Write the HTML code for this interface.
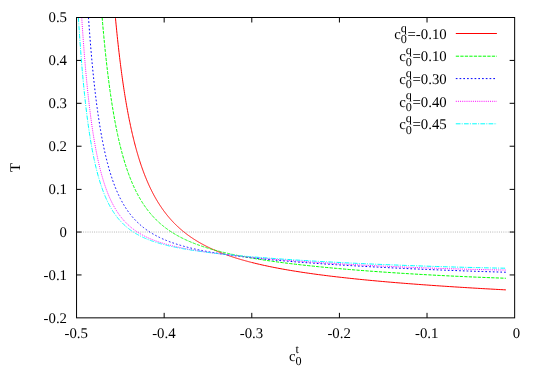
<!DOCTYPE html>
<html><head><meta charset="utf-8"><title>plot</title>
<style>
html,body{margin:0;padding:0;background:#fff;}
svg{display:block;will-change:transform;}
text{font-family:"Liberation Serif",serif;font-size:14.8px;fill:#000;text-rendering:geometricPrecision;}
.s{font-size:12.2px;}
</style></head><body>
<svg width="540" height="378" viewBox="0 0 540 378">
<rect width="540" height="378" fill="#fff"/>
<line x1="76.55" y1="232.04" x2="514.65" y2="232.04" stroke="#b0b0b0" stroke-width="1" stroke-dasharray="0.9,1.3"/>
<g stroke="#000" stroke-width="1">
<line x1="164.17" y1="317.85" x2="164.17" y2="312.85"/>
<line x1="164.17" y1="17.5" x2="164.17" y2="22.5"/>
<line x1="251.79" y1="317.85" x2="251.79" y2="312.85"/>
<line x1="251.79" y1="17.5" x2="251.79" y2="22.5"/>
<line x1="339.41" y1="317.85" x2="339.41" y2="312.85"/>
<line x1="339.41" y1="17.5" x2="339.41" y2="22.5"/>
<line x1="427.03" y1="317.85" x2="427.03" y2="312.85"/>
<line x1="427.03" y1="17.5" x2="427.03" y2="22.5"/>
<line x1="76.55" y1="60.41" x2="81.55" y2="60.41"/>
<line x1="514.65" y1="60.41" x2="509.65" y2="60.41"/>
<line x1="76.55" y1="103.31" x2="81.55" y2="103.31"/>
<line x1="514.65" y1="103.31" x2="509.65" y2="103.31"/>
<line x1="76.55" y1="146.22" x2="81.55" y2="146.22"/>
<line x1="514.65" y1="146.22" x2="509.65" y2="146.22"/>
<line x1="76.55" y1="189.38" x2="81.55" y2="189.38"/>
<line x1="514.65" y1="189.38" x2="509.65" y2="189.38"/>
<line x1="76.55" y1="232.04" x2="81.55" y2="232.04"/>
<line x1="514.65" y1="232.04" x2="509.65" y2="232.04"/>
<line x1="76.55" y1="274.94" x2="81.55" y2="274.94"/>
<line x1="514.65" y1="274.94" x2="509.65" y2="274.94"/>
</g>
<path d="M115.41,17.50 L115.53,18.73 L115.82,21.84 L116.11,24.89 L116.41,27.88 L116.70,30.82 L116.99,33.70 L117.28,36.53 L117.57,39.32 L117.87,42.05 L118.16,44.73 L118.45,47.36 L118.74,49.95 L119.04,52.49 L119.33,54.99 L119.62,57.45 L119.91,59.87 L120.21,62.24 L120.50,64.57 L120.79,66.87 L121.08,69.12 L121.38,71.34 L121.67,73.52 L121.96,75.67 L122.25,77.78 L122.55,79.86 L122.84,81.90 L123.13,83.91 L123.42,85.89 L123.72,87.84 L124.01,89.76 L124.30,91.64 L124.59,93.50 L124.88,95.33 L125.18,97.13 L125.47,98.91 L125.76,100.65 L126.05,102.37 L126.35,104.07 L126.64,105.74 L126.93,107.38 L127.22,109.00 L127.52,110.60 L127.81,112.17 L128.10,113.72 L128.39,115.25 L128.69,116.76 L128.98,118.24 L129.27,119.71 L129.56,121.15 L129.86,122.57 L130.15,123.97 L130.44,125.36 L130.73,126.72 L131.03,128.07 L131.32,129.39 L131.61,130.70 L131.90,131.99 L132.20,133.27 L132.49,134.52 L132.78,135.76 L133.07,136.98 L133.36,138.19 L133.66,139.38 L133.95,140.56 L134.24,141.72 L134.53,142.86 L134.83,143.99 L135.12,145.11 L135.41,146.21 L135.70,147.30 L136.00,148.37 L136.29,149.43 L136.58,150.48 L136.87,151.52 L137.17,152.54 L137.46,153.55 L137.75,154.54 L138.04,155.53 L138.34,156.50 L138.63,157.46 L138.92,158.41 L139.21,159.35 L139.51,160.27 L139.80,161.19 L140.09,162.09 L140.38,162.98 L140.67,163.87 L140.97,164.74 L141.26,165.60 L141.55,166.46 L141.84,167.30 L142.14,168.13 L142.43,168.96 L142.72,169.77 L143.01,170.58 L143.31,171.37 L143.60,172.16 L143.89,172.94 L144.18,173.71 L144.48,174.47 L144.77,175.22 L145.06,175.97 L145.35,176.70 L145.65,177.43 L145.94,178.15 L146.23,178.86 L146.52,179.57 L146.82,180.27 L147.11,180.96 L147.40,181.64 L147.69,182.31 L147.99,182.98 L148.28,183.64 L148.57,184.30 L148.86,184.95 L149.15,185.59 L149.45,186.22 L149.74,186.85 L150.03,187.47 L150.32,188.09 L150.62,188.69 L150.91,189.30 L151.20,189.89 L151.49,190.48 L151.79,191.07 L152.08,191.65 L152.37,192.22 L152.66,192.79 L152.96,193.35 L153.25,193.91 L153.54,194.46 L153.83,195.00 L154.13,195.54 L154.42,196.08 L154.71,196.61 L155.00,197.13 L155.30,197.65 L155.59,198.17 L155.88,198.68 L156.17,199.18 L156.46,199.69 L156.76,200.18 L157.05,200.67 L157.34,201.16 L157.63,201.64 L157.93,202.12 L158.22,202.59 L158.51,203.06 L158.80,203.53 L159.10,203.99 L159.39,204.44 L159.68,204.90 L159.97,205.34 L160.27,205.79 L160.56,206.23 L160.85,206.67 L161.14,207.10 L161.44,207.53 L161.73,207.95 L162.02,208.37 L162.31,208.79 L162.61,209.21 L162.90,209.62 L163.19,210.02 L163.48,210.43 L163.78,210.83 L164.07,211.22 L164.36,211.62 L164.65,212.01 L164.94,212.39 L165.24,212.78 L165.53,213.16 L165.82,213.53 L166.11,213.91 L166.41,214.28 L166.70,214.65 L166.99,215.01 L167.28,215.37 L167.58,215.73 L167.87,216.09 L168.16,216.44 L168.45,216.79 L168.75,217.14 L169.04,217.48 L169.33,217.82 L169.62,218.16 L169.92,218.50 L170.21,218.83 L170.50,219.16 L170.79,219.49 L171.09,219.82 L171.38,220.14 L171.67,220.46 L171.96,220.78 L172.26,221.09 L172.55,221.41 L172.84,221.72 L173.13,222.03 L173.42,222.33 L173.72,222.64 L174.01,222.94 L174.30,223.24 L174.59,223.53 L174.89,223.83 L175.18,224.12 L175.47,224.41 L175.76,224.70 L176.06,224.99 L176.35,225.27 L176.64,225.55 L176.93,225.83 L177.23,226.11 L177.52,226.39 L177.81,226.66 L178.10,226.93 L178.40,227.20 L178.69,227.47 L178.98,227.74 L179.27,228.00 L179.57,228.26 L179.86,228.52 L180.15,228.78 L180.44,229.04 L180.73,229.29 L181.03,229.55 L181.32,229.80 L181.61,230.05 L181.90,230.29 L182.20,230.54 L182.49,230.78 L182.78,231.03 L183.07,231.27 L183.37,231.51 L183.66,231.75 L183.95,231.98 L184.24,232.22 L184.54,232.45 L184.83,232.68 L185.12,232.91 L185.41,233.14 L185.71,233.37 L186.00,233.59 L186.29,233.81 L186.58,234.04 L186.88,234.26 L187.17,234.48 L187.46,234.69 L187.75,234.91 L188.05,235.13 L188.34,235.34 L188.63,235.55 L188.92,235.76 L189.21,235.97 L189.51,236.18 L189.80,236.39 L190.09,236.59 L190.38,236.80 L190.68,237.00 L190.97,237.20 L191.26,237.40 L191.55,237.60 L191.85,237.80 L192.14,238.00 L192.43,238.19 L192.72,238.39 L193.02,238.58 L193.31,238.77 L193.60,238.96 L193.89,239.15 L194.19,239.34 L194.48,239.53 L194.77,239.71 L195.06,239.90 L195.36,240.08 L195.65,240.27 L195.94,240.45 L196.23,240.63 L196.52,240.81 L196.82,240.99 L197.11,241.16 L197.40,241.34 L197.69,241.51 L197.99,241.69 L198.28,241.86 L198.57,242.03 L198.86,242.21 L199.16,242.38 L199.45,242.54 L199.74,242.71 L200.03,242.88 L200.33,243.05 L200.62,243.21 L200.91,243.38 L201.20,243.54 L201.50,243.70 L201.79,243.86 L202.08,244.02 L202.37,244.18 L202.67,244.34 L202.96,244.50 L203.25,244.66 L203.54,244.81 L203.84,244.97 L204.13,245.12 L204.42,245.28 L204.71,245.43 L205.00,245.58 L205.30,245.73 L205.59,245.88 L205.88,246.03 L206.17,246.18 L206.47,246.33 L206.76,246.48 L207.05,246.62 L207.34,246.77 L207.64,246.91 L207.93,247.06 L208.22,247.20 L208.51,247.34 L208.81,247.49 L209.10,247.63 L209.39,247.77 L209.68,247.91 L209.98,248.04 L210.27,248.18 L210.56,248.32 L210.85,248.46 L211.15,248.59 L211.44,248.73 L211.73,248.86 L212.02,249.00 L212.31,249.13 L212.61,249.26 L212.90,249.39 L213.19,249.52 L213.48,249.65 L213.78,249.78 L214.07,249.91 L214.36,250.04 L214.65,250.17 L214.95,250.30 L215.24,250.42 L215.53,250.55 L215.82,250.67 L216.12,250.80 L216.41,250.92 L216.70,251.05 L216.99,251.17 L217.29,251.29 L217.58,251.41 L217.87,251.53 L218.16,251.65 L218.46,251.77 L218.75,251.89 L219.04,252.01 L219.33,252.13 L219.63,252.25 L219.92,252.36 L220.21,252.48 L220.50,252.60 L220.79,252.71 L221.09,252.83 L221.38,252.94 L221.67,253.05 L221.96,253.17 L222.26,253.28 L222.55,253.39 L222.84,253.50 L223.13,253.62 L223.43,253.73 L223.72,253.84 L224.01,253.95 L224.30,254.05 L224.60,254.16 L224.89,254.27 L225.18,254.38 L225.47,254.49 L225.77,254.59 L226.06,254.70 L226.35,254.80 L226.64,254.91 L226.94,255.01 L227.23,255.12 L227.52,255.22 L227.81,255.32 L228.10,255.43 L228.40,255.53 L228.69,255.63 L228.98,255.73 L229.27,255.83 L229.57,255.93 L229.86,256.03 L230.15,256.13 L230.44,256.23 L230.74,256.33 L231.03,256.43 L231.32,256.53 L231.61,256.63 L231.91,256.72 L232.20,256.82 L232.49,256.92 L232.78,257.01 L233.08,257.11 L233.37,257.20 L233.66,257.30 L233.95,257.39 L234.25,257.49 L234.54,257.58 L234.83,257.67 L235.12,257.77 L235.42,257.86 L235.71,257.95 L236.00,258.04 L236.29,258.13 L236.58,258.22 L236.88,258.31 L237.17,258.40 L237.46,258.49 L237.75,258.58 L238.05,258.67 L238.34,258.76 L238.63,258.85 L238.92,258.94 L239.22,259.02 L239.51,259.11 L239.80,259.20 L240.09,259.28 L240.39,259.37 L240.68,259.46 L240.97,259.54 L241.26,259.63 L241.56,259.71 L241.85,259.80 L242.14,259.88 L242.43,259.96 L242.73,260.05 L243.02,260.13 L243.31,260.21 L243.60,260.29 L243.89,260.38 L244.19,260.46 L244.48,260.54 L244.77,260.62 L245.06,260.70 L245.36,260.78 L245.65,260.86 L245.94,260.94 L246.23,261.02 L246.53,261.10 L246.82,261.18 L247.11,261.26 L247.40,261.34 L247.70,261.42 L247.99,261.49 L248.28,261.57 L248.57,261.65 L248.87,261.73 L249.16,261.80 L249.45,261.88 L249.74,261.96 L250.04,262.03 L250.33,262.11 L250.62,262.18 L250.91,262.26 L251.21,262.33 L251.50,262.41 L251.79,262.48 L254.36,263.12 L256.92,263.74 L259.49,264.34 L262.06,264.93 L264.62,265.49 L267.19,266.04 L269.76,266.58 L272.32,267.10 L274.89,267.61 L277.46,268.10 L280.02,268.58 L282.59,269.05 L285.16,269.51 L287.72,269.96 L290.29,270.39 L292.86,270.82 L295.42,271.23 L297.99,271.64 L300.56,272.04 L303.12,272.43 L305.69,272.81 L308.26,273.18 L310.82,273.54 L313.39,273.90 L315.96,274.25 L318.52,274.60 L321.09,274.93 L323.66,275.26 L326.22,275.59 L328.79,275.91 L331.36,276.22 L333.92,276.52 L336.49,276.83 L339.06,277.12 L341.62,277.41 L344.19,277.70 L346.76,277.98 L349.32,278.26 L351.89,278.53 L354.46,278.80 L357.02,279.07 L359.59,279.33 L362.16,279.58 L364.72,279.84 L367.29,280.09 L369.86,280.33 L372.42,280.57 L374.99,280.81 L377.56,281.05 L380.12,281.28 L382.69,281.51 L385.26,281.73 L387.82,281.96 L390.39,282.18 L392.96,282.39 L395.52,282.61 L398.09,282.82 L400.66,283.03 L403.22,283.23 L405.79,283.44 L408.36,283.64 L410.92,283.84 L413.49,284.03 L416.06,284.23 L418.62,284.42 L421.19,284.61 L423.76,284.80 L426.32,284.98 L428.89,285.17 L431.46,285.35 L434.02,285.53 L436.59,285.71 L439.16,285.88 L441.72,286.06 L444.29,286.23 L446.86,286.40 L449.42,286.57 L451.99,286.73 L454.56,286.90 L457.12,287.06 L459.69,287.22 L462.26,287.38 L464.82,287.54 L467.39,287.70 L469.95,287.85 L472.52,288.01 L475.09,288.16 L477.65,288.31 L480.22,288.46 L482.79,288.61 L485.35,288.75 L487.92,288.90 L490.49,289.04 L493.05,289.18 L495.62,289.33 L498.19,289.47 L500.75,289.60 L503.32,289.74 L505.89,289.88" fill="none" stroke="#ff0000" stroke-width="1"/>
<path d="M102.14,17.50 L102.37,20.26 L102.66,23.66 L102.95,27.00 L103.25,30.27 L103.54,33.47 L103.83,36.61 L104.12,39.69 L104.42,42.71 L104.71,45.67 L105.00,48.57 L105.29,51.41 L105.59,54.20 L105.88,56.94 L106.17,59.63 L106.46,62.26 L106.76,64.85 L107.05,67.38 L107.34,69.87 L107.63,72.32 L107.93,74.72 L108.22,77.07 L108.51,79.39 L108.80,81.66 L109.09,83.89 L109.39,86.08 L109.68,88.23 L109.97,90.35 L110.26,92.42 L110.56,94.46 L110.85,96.47 L111.14,98.44 L111.43,100.38 L111.73,102.28 L112.02,104.15 L112.31,105.99 L112.60,107.80 L112.90,109.58 L113.19,111.33 L113.48,113.05 L113.77,114.74 L114.07,116.40 L114.36,118.04 L114.65,119.65 L114.94,121.24 L115.24,122.79 L115.53,124.33 L115.82,125.84 L116.11,127.32 L116.41,128.79 L116.70,130.23 L116.99,131.64 L117.28,133.04 L117.57,134.41 L117.87,135.76 L118.16,137.10 L118.45,138.41 L118.74,139.70 L119.04,140.97 L119.33,142.23 L119.62,143.46 L119.91,144.68 L120.21,145.88 L120.50,147.06 L120.79,148.22 L121.08,149.37 L121.38,150.50 L121.67,151.61 L121.96,152.71 L122.25,153.79 L122.55,154.86 L122.84,155.91 L123.13,156.94 L123.42,157.97 L123.72,158.97 L124.01,159.97 L124.30,160.95 L124.59,161.91 L124.88,162.87 L125.18,163.81 L125.47,164.73 L125.76,165.65 L126.05,166.55 L126.35,167.44 L126.64,168.32 L126.93,169.19 L127.22,170.04 L127.52,170.89 L127.81,171.72 L128.10,172.54 L128.39,173.36 L128.69,174.16 L128.98,174.95 L129.27,175.73 L129.56,176.50 L129.86,177.26 L130.15,178.01 L130.44,178.75 L130.73,179.48 L131.03,180.21 L131.32,180.92 L131.61,181.63 L131.90,182.32 L132.20,183.01 L132.49,183.69 L132.78,184.36 L133.07,185.03 L133.36,185.68 L133.66,186.33 L133.95,186.97 L134.24,187.60 L134.53,188.22 L134.83,188.84 L135.12,189.45 L135.41,190.05 L135.70,190.65 L136.00,191.24 L136.29,191.82 L136.58,192.39 L136.87,192.96 L137.17,193.52 L137.46,194.08 L137.75,194.63 L138.04,195.17 L138.34,195.71 L138.63,196.24 L138.92,196.76 L139.21,197.28 L139.51,197.80 L139.80,198.30 L140.09,198.80 L140.38,199.30 L140.67,199.79 L140.97,200.28 L141.26,200.76 L141.55,201.23 L141.84,201.70 L142.14,202.17 L142.43,202.63 L142.72,203.08 L143.01,203.53 L143.31,203.98 L143.60,204.42 L143.89,204.86 L144.18,205.29 L144.48,205.72 L144.77,206.14 L145.06,206.56 L145.35,206.97 L145.65,207.38 L145.94,207.79 L146.23,208.19 L146.52,208.59 L146.82,208.98 L147.11,209.37 L147.40,209.76 L147.69,210.14 L147.99,210.52 L148.28,210.89 L148.57,211.26 L148.86,211.63 L149.15,211.99 L149.45,212.35 L149.74,212.71 L150.03,213.06 L150.32,213.41 L150.62,213.76 L150.91,214.10 L151.20,214.44 L151.49,214.78 L151.79,215.11 L152.08,215.44 L152.37,215.77 L152.66,216.09 L152.96,216.41 L153.25,216.73 L153.54,217.05 L153.83,217.36 L154.13,217.67 L154.42,217.98 L154.71,218.28 L155.00,218.58 L155.30,218.88 L155.59,219.18 L155.88,219.47 L156.17,219.76 L156.46,220.05 L156.76,220.33 L157.05,220.62 L157.34,220.90 L157.63,221.17 L157.93,221.45 L158.22,221.72 L158.51,221.99 L158.80,222.26 L159.10,222.53 L159.39,222.79 L159.68,223.05 L159.97,223.31 L160.27,223.57 L160.56,223.82 L160.85,224.08 L161.14,224.33 L161.44,224.58 L161.73,224.82 L162.02,225.07 L162.31,225.31 L162.61,225.55 L162.90,225.79 L163.19,226.02 L163.48,226.26 L163.78,226.49 L164.07,226.72 L164.36,226.95 L164.65,227.18 L164.94,227.40 L165.24,227.63 L165.53,227.85 L165.82,228.07 L166.11,228.29 L166.41,228.50 L166.70,228.72 L166.99,228.93 L167.28,229.14 L167.58,229.35 L167.87,229.56 L168.16,229.77 L168.45,229.97 L168.75,230.18 L169.04,230.38 L169.33,230.58 L169.62,230.78 L169.92,230.97 L170.21,231.17 L170.50,231.36 L170.79,231.56 L171.09,231.75 L171.38,231.94 L171.67,232.13 L171.96,232.31 L172.26,232.50 L172.55,232.68 L172.84,232.87 L173.13,233.05 L173.42,233.23 L173.72,233.41 L174.01,233.59 L174.30,233.76 L174.59,233.94 L174.89,234.11 L175.18,234.29 L175.47,234.46 L175.76,234.63 L176.06,234.80 L176.35,234.97 L176.64,235.13 L176.93,235.30 L177.23,235.46 L177.52,235.63 L177.81,235.79 L178.10,235.95 L178.40,236.11 L178.69,236.27 L178.98,236.43 L179.27,236.59 L179.57,236.74 L179.86,236.90 L180.15,237.05 L180.44,237.20 L180.73,237.36 L181.03,237.51 L181.32,237.66 L181.61,237.81 L181.90,237.95 L182.20,238.10 L182.49,238.25 L182.78,238.39 L183.07,238.54 L183.37,238.68 L183.66,238.82 L183.95,238.96 L184.24,239.10 L184.54,239.24 L184.83,239.38 L185.12,239.52 L185.41,239.66 L185.71,239.79 L186.00,239.93 L186.29,240.06 L186.58,240.20 L186.88,240.33 L187.17,240.46 L187.46,240.59 L187.75,240.72 L188.05,240.85 L188.34,240.98 L188.63,241.11 L188.92,241.24 L189.21,241.36 L189.51,241.49 L189.80,241.61 L190.09,241.74 L190.38,241.86 L190.68,241.98 L190.97,242.10 L191.26,242.23 L191.55,242.35 L191.85,242.47 L192.14,242.59 L192.43,242.70 L192.72,242.82 L193.02,242.94 L193.31,243.06 L193.60,243.17 L193.89,243.29 L194.19,243.40 L194.48,243.51 L194.77,243.63 L195.06,243.74 L195.36,243.85 L195.65,243.96 L195.94,244.07 L196.23,244.18 L196.52,244.29 L196.82,244.40 L197.11,244.51 L197.40,244.62 L197.69,244.73 L197.99,244.83 L198.28,244.94 L198.57,245.04 L198.86,245.15 L199.16,245.25 L199.45,245.36 L199.74,245.46 L200.03,245.56 L200.33,245.66 L200.62,245.77 L200.91,245.87 L201.20,245.97 L201.50,246.07 L201.79,246.17 L202.08,246.27 L202.37,246.36 L202.67,246.46 L202.96,246.56 L203.25,246.66 L203.54,246.75 L203.84,246.85 L204.13,246.94 L204.42,247.04 L204.71,247.13 L205.00,247.23 L205.30,247.32 L205.59,247.41 L205.88,247.51 L206.17,247.60 L206.47,247.69 L206.76,247.78 L207.05,247.87 L207.34,247.96 L207.64,248.05 L207.93,248.14 L208.22,248.23 L208.51,248.32 L208.81,248.41 L209.10,248.50 L209.39,248.58 L209.68,248.67 L209.98,248.76 L210.27,248.84 L210.56,248.93 L210.85,249.01 L211.15,249.10 L211.44,249.18 L211.73,249.27 L212.02,249.35 L212.31,249.43 L212.61,249.52 L212.90,249.60 L213.19,249.68 L213.48,249.76 L213.78,249.84 L214.07,249.93 L214.36,250.01 L214.65,250.09 L214.95,250.17 L215.24,250.25 L215.53,250.33 L215.82,250.40 L216.12,250.48 L216.41,250.56 L216.70,250.64 L216.99,250.72 L217.29,250.79 L217.58,250.87 L217.87,250.95 L218.16,251.02 L218.46,251.10 L218.75,251.17 L219.04,251.25 L219.33,251.33 L219.63,251.40 L219.92,251.47 L220.21,251.55 L220.50,251.62 L220.79,251.69 L221.09,251.77 L221.38,251.84 L221.67,251.91 L221.96,251.98 L222.26,252.06 L222.55,252.13 L222.84,252.20 L223.13,252.27 L223.43,252.34 L223.72,252.41 L224.01,252.48 L224.30,252.55 L224.60,252.62 L224.89,252.69 L225.18,252.76 L225.47,252.83 L225.77,252.90 L226.06,252.96 L226.35,253.03 L226.64,253.10 L226.94,253.17 L227.23,253.23 L227.52,253.30 L227.81,253.37 L228.10,253.43 L228.40,253.50 L228.69,253.56 L228.98,253.63 L229.27,253.70 L229.57,253.76 L229.86,253.83 L230.15,253.89 L230.44,253.95 L230.74,254.02 L231.03,254.08 L231.32,254.15 L231.61,254.21 L231.91,254.27 L232.20,254.33 L232.49,254.40 L232.78,254.46 L233.08,254.52 L233.37,254.58 L233.66,254.64 L233.95,254.71 L234.25,254.77 L234.54,254.83 L234.83,254.89 L235.12,254.95 L235.42,255.01 L235.71,255.07 L236.00,255.13 L236.29,255.19 L236.58,255.25 L236.88,255.31 L237.17,255.37 L237.46,255.43 L237.75,255.48 L238.05,255.54 L238.34,255.60 L238.63,255.66 L238.92,255.72 L239.22,255.77 L239.51,255.83 L239.80,255.89 L240.09,255.95 L240.39,256.00 L240.68,256.06 L240.97,256.12 L241.26,256.17 L241.56,256.23 L241.85,256.28 L242.14,256.34 L242.43,256.40 L242.73,256.45 L243.02,256.51 L243.31,256.56 L243.60,256.62 L243.89,256.67 L244.19,256.72 L244.48,256.78 L244.77,256.83 L245.06,256.89 L245.36,256.94 L245.65,256.99 L245.94,257.05 L246.23,257.10 L246.53,257.15 L246.82,257.21 L247.11,257.26 L247.40,257.31 L247.70,257.36 L247.99,257.41 L248.28,257.47 L248.57,257.52 L248.87,257.57 L249.16,257.62 L249.45,257.67 L249.74,257.72 L250.04,257.78 L250.33,257.83 L250.62,257.88 L250.91,257.93 L251.21,257.98 L251.50,258.03 L251.79,258.08 L254.36,258.51 L256.92,258.93 L259.49,259.34 L262.06,259.74 L264.62,260.13 L267.19,260.52 L269.76,260.89 L272.32,261.25 L274.89,261.61 L277.46,261.96 L280.02,262.30 L282.59,262.63 L285.16,262.96 L287.72,263.28 L290.29,263.60 L292.86,263.90 L295.42,264.21 L297.99,264.50 L300.56,264.79 L303.12,265.08 L305.69,265.36 L308.26,265.64 L310.82,265.91 L313.39,266.18 L315.96,266.44 L318.52,266.70 L321.09,266.95 L323.66,267.20 L326.22,267.45 L328.79,267.69 L331.36,267.93 L333.92,268.16 L336.49,268.39 L339.06,268.62 L341.62,268.84 L344.19,269.06 L346.76,269.28 L349.32,269.50 L351.89,269.71 L354.46,269.92 L357.02,270.12 L359.59,270.32 L362.16,270.52 L364.72,270.72 L367.29,270.91 L369.86,271.11 L372.42,271.30 L374.99,271.48 L377.56,271.67 L380.12,271.85 L382.69,272.03 L385.26,272.20 L387.82,272.38 L390.39,272.55 L392.96,272.72 L395.52,272.89 L398.09,273.05 L400.66,273.21 L403.22,273.37 L405.79,273.53 L408.36,273.69 L410.92,273.84 L413.49,274.00 L416.06,274.15 L418.62,274.29 L421.19,274.44 L423.76,274.58 L426.32,274.73 L428.89,274.87 L431.46,275.01 L434.02,275.14 L436.59,275.28 L439.16,275.41 L441.72,275.54 L444.29,275.67 L446.86,275.80 L449.42,275.92 L451.99,276.05 L454.56,276.17 L457.12,276.29 L459.69,276.41 L462.26,276.52 L464.82,276.64 L467.39,276.75 L469.95,276.86 L472.52,276.97 L475.09,277.08 L477.65,277.19 L480.22,277.29 L482.79,277.40 L485.35,277.50 L487.92,277.60 L490.49,277.70 L493.05,277.79 L495.62,277.89 L498.19,277.98 L500.75,278.07 L503.32,278.16 L505.89,278.25" fill="none" stroke="#00ff00" stroke-width="1" stroke-dasharray="3.3,1.2"/>
<path d="M88.49,17.50 L88.63,19.54 L88.92,23.67 L89.21,27.70 L89.50,31.63 L89.80,35.47 L90.09,39.21 L90.38,42.87 L90.67,46.43 L90.97,49.92 L91.26,53.32 L91.55,56.65 L91.84,59.90 L92.14,63.07 L92.43,66.17 L92.72,69.20 L93.01,72.17 L93.30,75.06 L93.60,77.90 L93.89,80.67 L94.18,83.38 L94.47,86.03 L94.77,88.63 L95.06,91.16 L95.35,93.65 L95.64,96.08 L95.94,98.46 L96.23,100.79 L96.52,103.08 L96.81,105.31 L97.11,107.50 L97.40,109.64 L97.69,111.75 L97.98,113.80 L98.28,115.82 L98.57,117.80 L98.86,119.74 L99.15,121.64 L99.45,123.50 L99.74,125.33 L100.03,127.12 L100.32,128.88 L100.62,130.60 L100.91,132.29 L101.20,133.95 L101.49,135.57 L101.78,137.17 L102.08,138.74 L102.37,140.28 L102.66,141.78 L102.95,143.27 L103.25,144.72 L103.54,146.15 L103.83,147.55 L104.12,148.93 L104.42,150.28 L104.71,151.61 L105.00,152.92 L105.29,154.20 L105.59,155.46 L105.88,156.70 L106.17,157.92 L106.46,159.12 L106.76,160.29 L107.05,161.45 L107.34,162.59 L107.63,163.70 L107.93,164.80 L108.22,165.88 L108.51,166.95 L108.80,167.99 L109.09,169.02 L109.39,170.03 L109.68,171.03 L109.97,172.00 L110.26,172.97 L110.56,173.92 L110.85,174.85 L111.14,175.77 L111.43,176.67 L111.73,177.56 L112.02,178.44 L112.31,179.30 L112.60,180.15 L112.90,180.98 L113.19,181.81 L113.48,182.62 L113.77,183.41 L114.07,184.20 L114.36,184.97 L114.65,185.74 L114.94,186.49 L115.24,187.23 L115.53,187.96 L115.82,188.68 L116.11,189.39 L116.41,190.08 L116.70,190.77 L116.99,191.45 L117.28,192.12 L117.57,192.78 L117.87,193.43 L118.16,194.07 L118.45,194.70 L118.74,195.32 L119.04,195.93 L119.33,196.54 L119.62,197.14 L119.91,197.73 L120.21,198.31 L120.50,198.88 L120.79,199.45 L121.08,200.00 L121.38,200.55 L121.67,201.10 L121.96,201.63 L122.25,202.16 L122.55,202.68 L122.84,203.20 L123.13,203.70 L123.42,204.21 L123.72,204.70 L124.01,205.19 L124.30,205.67 L124.59,206.15 L124.88,206.62 L125.18,207.08 L125.47,207.54 L125.76,207.99 L126.05,208.44 L126.35,208.88 L126.64,209.31 L126.93,209.75 L127.22,210.17 L127.52,210.59 L127.81,211.00 L128.10,211.41 L128.39,211.82 L128.69,212.22 L128.98,212.61 L129.27,213.00 L129.56,213.39 L129.86,213.77 L130.15,214.15 L130.44,214.52 L130.73,214.89 L131.03,215.25 L131.32,215.61 L131.61,215.97 L131.90,216.32 L132.20,216.66 L132.49,217.01 L132.78,217.35 L133.07,217.68 L133.36,218.01 L133.66,218.34 L133.95,218.67 L134.24,218.99 L134.53,219.30 L134.83,219.62 L135.12,219.93 L135.41,220.24 L135.70,220.54 L136.00,220.84 L136.29,221.14 L136.58,221.43 L136.87,221.72 L137.17,222.01 L137.46,222.29 L137.75,222.57 L138.04,222.85 L138.34,223.13 L138.63,223.40 L138.92,223.67 L139.21,223.94 L139.51,224.20 L139.80,224.46 L140.09,224.72 L140.38,224.98 L140.67,225.23 L140.97,225.48 L141.26,225.73 L141.55,225.98 L141.84,226.22 L142.14,226.46 L142.43,226.70 L142.72,226.94 L143.01,227.17 L143.31,227.40 L143.60,227.63 L143.89,227.86 L144.18,228.09 L144.48,228.31 L144.77,228.53 L145.06,228.75 L145.35,228.96 L145.65,229.18 L145.94,229.39 L146.23,229.60 L146.52,229.81 L146.82,230.02 L147.11,230.22 L147.40,230.42 L147.69,230.62 L147.99,230.82 L148.28,231.02 L148.57,231.22 L148.86,231.41 L149.15,231.60 L149.45,231.79 L149.74,231.98 L150.03,232.17 L150.32,232.35 L150.62,232.53 L150.91,232.72 L151.20,232.90 L151.49,233.08 L151.79,233.25 L152.08,233.43 L152.37,233.60 L152.66,233.77 L152.96,233.94 L153.25,234.11 L153.54,234.28 L153.83,234.45 L154.13,234.61 L154.42,234.78 L154.71,234.94 L155.00,235.10 L155.30,235.26 L155.59,235.42 L155.88,235.58 L156.17,235.73 L156.46,235.89 L156.76,236.04 L157.05,236.19 L157.34,236.34 L157.63,236.49 L157.93,236.64 L158.22,236.79 L158.51,236.93 L158.80,237.08 L159.10,237.22 L159.39,237.36 L159.68,237.50 L159.97,237.64 L160.27,237.78 L160.56,237.92 L160.85,238.06 L161.14,238.19 L161.44,238.33 L161.73,238.46 L162.02,238.60 L162.31,238.73 L162.61,238.86 L162.90,238.99 L163.19,239.12 L163.48,239.24 L163.78,239.37 L164.07,239.50 L164.36,239.62 L164.65,239.75 L164.94,239.87 L165.24,239.99 L165.53,240.11 L165.82,240.23 L166.11,240.35 L166.41,240.47 L166.70,240.59 L166.99,240.71 L167.28,240.82 L167.58,240.94 L167.87,241.05 L168.16,241.17 L168.45,241.28 L168.75,241.39 L169.04,241.50 L169.33,241.61 L169.62,241.72 L169.92,241.83 L170.21,241.94 L170.50,242.05 L170.79,242.15 L171.09,242.26 L171.38,242.37 L171.67,242.47 L171.96,242.57 L172.26,242.68 L172.55,242.78 L172.84,242.88 L173.13,242.98 L173.42,243.08 L173.72,243.18 L174.01,243.28 L174.30,243.38 L174.59,243.48 L174.89,243.58 L175.18,243.67 L175.47,243.77 L175.76,243.86 L176.06,243.96 L176.35,244.05 L176.64,244.15 L176.93,244.24 L177.23,244.33 L177.52,244.42 L177.81,244.51 L178.10,244.60 L178.40,244.69 L178.69,244.78 L178.98,244.87 L179.27,244.96 L179.57,245.05 L179.86,245.14 L180.15,245.22 L180.44,245.31 L180.73,245.40 L181.03,245.48 L181.32,245.57 L181.61,245.65 L181.90,245.73 L182.20,245.82 L182.49,245.90 L182.78,245.98 L183.07,246.06 L183.37,246.15 L183.66,246.23 L183.95,246.31 L184.24,246.39 L184.54,246.47 L184.83,246.54 L185.12,246.62 L185.41,246.70 L185.71,246.78 L186.00,246.86 L186.29,246.93 L186.58,247.01 L186.88,247.09 L187.17,247.16 L187.46,247.24 L187.75,247.31 L188.05,247.38 L188.34,247.46 L188.63,247.53 L188.92,247.60 L189.21,247.68 L189.51,247.75 L189.80,247.82 L190.09,247.89 L190.38,247.96 L190.68,248.04 L190.97,248.11 L191.26,248.18 L191.55,248.24 L191.85,248.31 L192.14,248.38 L192.43,248.45 L192.72,248.52 L193.02,248.59 L193.31,248.66 L193.60,248.72 L193.89,248.79 L194.19,248.86 L194.48,248.92 L194.77,248.99 L195.06,249.05 L195.36,249.12 L195.65,249.18 L195.94,249.25 L196.23,249.31 L196.52,249.37 L196.82,249.44 L197.11,249.50 L197.40,249.56 L197.69,249.63 L197.99,249.69 L198.28,249.75 L198.57,249.81 L198.86,249.87 L199.16,249.94 L199.45,250.00 L199.74,250.06 L200.03,250.12 L200.33,250.18 L200.62,250.24 L200.91,250.30 L201.20,250.35 L201.50,250.41 L201.79,250.47 L202.08,250.53 L202.37,250.59 L202.67,250.65 L202.96,250.70 L203.25,250.76 L203.54,250.82 L203.84,250.87 L204.13,250.93 L204.42,250.99 L204.71,251.04 L205.00,251.10 L205.30,251.15 L205.59,251.21 L205.88,251.26 L206.17,251.32 L206.47,251.37 L206.76,251.43 L207.05,251.48 L207.34,251.54 L207.64,251.59 L207.93,251.64 L208.22,251.70 L208.51,251.75 L208.81,251.80 L209.10,251.85 L209.39,251.91 L209.68,251.96 L209.98,252.01 L210.27,252.06 L210.56,252.11 L210.85,252.16 L211.15,252.21 L211.44,252.26 L211.73,252.32 L212.02,252.37 L212.31,252.42 L212.61,252.47 L212.90,252.51 L213.19,252.56 L213.48,252.61 L213.78,252.66 L214.07,252.71 L214.36,252.76 L214.65,252.81 L214.95,252.86 L215.24,252.90 L215.53,252.95 L215.82,253.00 L216.12,253.05 L216.41,253.10 L216.70,253.14 L216.99,253.19 L217.29,253.24 L217.58,253.28 L217.87,253.33 L218.16,253.38 L218.46,253.42 L218.75,253.47 L219.04,253.51 L219.33,253.56 L219.63,253.60 L219.92,253.65 L220.21,253.69 L220.50,253.74 L220.79,253.78 L221.09,253.83 L221.38,253.87 L221.67,253.92 L221.96,253.96 L222.26,254.01 L222.55,254.05 L222.84,254.09 L223.13,254.14 L223.43,254.18 L223.72,254.22 L224.01,254.27 L224.30,254.31 L224.60,254.35 L224.89,254.39 L225.18,254.44 L225.47,254.48 L225.77,254.52 L226.06,254.56 L226.35,254.60 L226.64,254.65 L226.94,254.69 L227.23,254.73 L227.52,254.77 L227.81,254.81 L228.10,254.85 L228.40,254.89 L228.69,254.93 L228.98,254.97 L229.27,255.01 L229.57,255.05 L229.86,255.09 L230.15,255.13 L230.44,255.17 L230.74,255.21 L231.03,255.25 L231.32,255.29 L231.61,255.33 L231.91,255.37 L232.20,255.41 L232.49,255.45 L232.78,255.49 L233.08,255.53 L233.37,255.57 L233.66,255.60 L233.95,255.64 L234.25,255.68 L234.54,255.72 L234.83,255.76 L235.12,255.79 L235.42,255.83 L235.71,255.87 L236.00,255.91 L236.29,255.95 L236.58,255.98 L236.88,256.02 L237.17,256.06 L237.46,256.09 L237.75,256.13 L238.05,256.17 L238.34,256.20 L238.63,256.24 L238.92,256.28 L239.22,256.31 L239.51,256.35 L239.80,256.39 L240.09,256.42 L240.39,256.46 L240.68,256.49 L240.97,256.53 L241.26,256.56 L241.56,256.60 L241.85,256.63 L242.14,256.67 L242.43,256.70 L242.73,256.74 L243.02,256.77 L243.31,256.81 L243.60,256.84 L243.89,256.88 L244.19,256.91 L244.48,256.95 L244.77,256.98 L245.06,257.02 L245.36,257.05 L245.65,257.08 L245.94,257.12 L246.23,257.15 L246.53,257.19 L246.82,257.22 L247.11,257.25 L247.40,257.29 L247.70,257.32 L247.99,257.35 L248.28,257.39 L248.57,257.42 L248.87,257.45 L249.16,257.49 L249.45,257.52 L249.74,257.55 L250.04,257.58 L250.33,257.62 L250.62,257.65 L250.91,257.68 L251.21,257.71 L251.50,257.75 L251.79,257.78 L254.36,258.06 L256.92,258.33 L259.49,258.60 L262.06,258.86 L264.62,259.11 L267.19,259.36 L269.76,259.61 L272.32,259.85 L274.89,260.09 L277.46,260.32 L280.02,260.55 L282.59,260.77 L285.16,260.99 L287.72,261.21 L290.29,261.42 L292.86,261.63 L295.42,261.83 L297.99,262.04 L300.56,262.24 L303.12,262.43 L305.69,262.63 L308.26,262.82 L310.82,263.01 L313.39,263.19 L315.96,263.37 L318.52,263.55 L321.09,263.73 L323.66,263.91 L326.22,264.08 L328.79,264.25 L331.36,264.42 L333.92,264.59 L336.49,264.75 L339.06,264.91 L341.62,265.07 L344.19,265.23 L346.76,265.39 L349.32,265.54 L351.89,265.69 L354.46,265.84 L357.02,265.99 L359.59,266.14 L362.16,266.29 L364.72,266.43 L367.29,266.57 L369.86,266.71 L372.42,266.85 L374.99,266.99 L377.56,267.12 L380.12,267.26 L382.69,267.39 L385.26,267.52 L387.82,267.65 L390.39,267.78 L392.96,267.91 L395.52,268.03 L398.09,268.15 L400.66,268.28 L403.22,268.40 L405.79,268.52 L408.36,268.64 L410.92,268.75 L413.49,268.87 L416.06,268.98 L418.62,269.10 L421.19,269.21 L423.76,269.32 L426.32,269.43 L428.89,269.54 L431.46,269.64 L434.02,269.75 L436.59,269.85 L439.16,269.96 L441.72,270.06 L444.29,270.16 L446.86,270.26 L449.42,270.36 L451.99,270.45 L454.56,270.55 L457.12,270.64 L459.69,270.74 L462.26,270.83 L464.82,270.92 L467.39,271.01 L469.95,271.10 L472.52,271.19 L475.09,271.27 L477.65,271.36 L480.22,271.44 L482.79,271.53 L485.35,271.61 L487.92,271.69 L490.49,271.77 L493.05,271.85 L495.62,271.93 L498.19,272.01 L500.75,272.08 L503.32,272.16 L505.89,272.23" fill="none" stroke="#0000ff" stroke-width="1" stroke-dasharray="1.7,2.05"/>
<path d="M81.72,17.50 L81.90,20.26 L82.19,24.72 L82.49,29.07 L82.78,33.31 L83.07,37.45 L83.36,41.49 L83.66,45.42 L83.95,49.26 L84.24,53.01 L84.53,56.66 L84.83,60.23 L85.12,63.71 L85.41,67.11 L85.70,70.43 L85.99,73.67 L86.29,76.83 L86.58,79.93 L86.87,82.94 L87.16,85.89 L87.46,88.78 L87.75,91.59 L88.04,94.35 L88.33,97.04 L88.63,99.67 L88.92,102.24 L89.21,104.75 L89.50,107.21 L89.80,109.62 L90.09,111.97 L90.38,114.27 L90.67,116.52 L90.97,118.72 L91.26,120.88 L91.55,122.99 L91.84,125.05 L92.14,127.07 L92.43,129.05 L92.72,130.99 L93.01,132.88 L93.30,134.74 L93.60,136.56 L93.89,138.34 L94.18,140.09 L94.47,141.80 L94.77,143.48 L95.06,145.12 L95.35,146.73 L95.64,148.30 L95.94,149.85 L96.23,151.36 L96.52,152.85 L96.81,154.31 L97.11,155.73 L97.40,157.14 L97.69,158.51 L97.98,159.86 L98.28,161.18 L98.57,162.47 L98.86,163.75 L99.15,164.99 L99.45,166.22 L99.74,167.42 L100.03,168.60 L100.32,169.76 L100.62,170.89 L100.91,172.01 L101.20,173.11 L101.49,174.18 L101.78,175.24 L102.08,176.27 L102.37,177.29 L102.66,178.29 L102.95,179.27 L103.25,180.24 L103.54,181.19 L103.83,182.12 L104.12,183.04 L104.42,183.94 L104.71,184.82 L105.00,185.69 L105.29,186.54 L105.59,187.38 L105.88,188.21 L106.17,189.02 L106.46,189.82 L106.76,190.60 L107.05,191.37 L107.34,192.13 L107.63,192.88 L107.93,193.61 L108.22,194.33 L108.51,195.04 L108.80,195.74 L109.09,196.43 L109.39,197.10 L109.68,197.77 L109.97,198.42 L110.26,199.07 L110.56,199.70 L110.85,200.33 L111.14,200.94 L111.43,201.54 L111.73,202.14 L112.02,202.73 L112.31,203.30 L112.60,203.87 L112.90,204.43 L113.19,204.98 L113.48,205.52 L113.77,206.06 L114.07,206.59 L114.36,207.10 L114.65,207.62 L114.94,208.12 L115.24,208.61 L115.53,209.10 L115.82,209.58 L116.11,210.06 L116.41,210.53 L116.70,210.99 L116.99,211.44 L117.28,211.89 L117.57,212.33 L117.87,212.77 L118.16,213.20 L118.45,213.62 L118.74,214.04 L119.04,214.45 L119.33,214.85 L119.62,215.25 L119.91,215.65 L120.21,216.04 L120.50,216.42 L120.79,216.80 L121.08,217.17 L121.38,217.54 L121.67,217.90 L121.96,218.26 L122.25,218.61 L122.55,218.96 L122.84,219.31 L123.13,219.65 L123.42,219.98 L123.72,220.31 L124.01,220.64 L124.30,220.96 L124.59,221.28 L124.88,221.60 L125.18,221.91 L125.47,222.21 L125.76,222.52 L126.05,222.81 L126.35,223.11 L126.64,223.40 L126.93,223.69 L127.22,223.97 L127.52,224.25 L127.81,224.53 L128.10,224.80 L128.39,225.07 L128.69,225.34 L128.98,225.61 L129.27,225.87 L129.56,226.12 L129.86,226.38 L130.15,226.63 L130.44,226.88 L130.73,227.13 L131.03,227.37 L131.32,227.61 L131.61,227.85 L131.90,228.08 L132.20,228.31 L132.49,228.54 L132.78,228.77 L133.07,228.99 L133.36,229.21 L133.66,229.43 L133.95,229.65 L134.24,229.86 L134.53,230.07 L134.83,230.28 L135.12,230.49 L135.41,230.69 L135.70,230.90 L136.00,231.10 L136.29,231.30 L136.58,231.49 L136.87,231.69 L137.17,231.88 L137.46,232.07 L137.75,232.25 L138.04,232.44 L138.34,232.62 L138.63,232.81 L138.92,232.99 L139.21,233.16 L139.51,233.34 L139.80,233.52 L140.09,233.69 L140.38,233.86 L140.67,234.03 L140.97,234.20 L141.26,234.36 L141.55,234.53 L141.84,234.69 L142.14,234.85 L142.43,235.01 L142.72,235.17 L143.01,235.32 L143.31,235.48 L143.60,235.63 L143.89,235.78 L144.18,235.93 L144.48,236.08 L144.77,236.23 L145.06,236.38 L145.35,236.52 L145.65,236.66 L145.94,236.81 L146.23,236.95 L146.52,237.09 L146.82,237.22 L147.11,237.36 L147.40,237.50 L147.69,237.63 L147.99,237.76 L148.28,237.90 L148.57,238.03 L148.86,238.16 L149.15,238.29 L149.45,238.41 L149.74,238.54 L150.03,238.66 L150.32,238.79 L150.62,238.91 L150.91,239.03 L151.20,239.15 L151.49,239.27 L151.79,239.39 L152.08,239.51 L152.37,239.63 L152.66,239.74 L152.96,239.86 L153.25,239.97 L153.54,240.08 L153.83,240.20 L154.13,240.31 L154.42,240.42 L154.71,240.53 L155.00,240.64 L155.30,240.74 L155.59,240.85 L155.88,240.96 L156.17,241.06 L156.46,241.16 L156.76,241.27 L157.05,241.37 L157.34,241.47 L157.63,241.57 L157.93,241.67 L158.22,241.77 L158.51,241.87 L158.80,241.97 L159.10,242.07 L159.39,242.16 L159.68,242.26 L159.97,242.35 L160.27,242.45 L160.56,242.54 L160.85,242.63 L161.14,242.73 L161.44,242.82 L161.73,242.91 L162.02,243.00 L162.31,243.09 L162.61,243.18 L162.90,243.27 L163.19,243.35 L163.48,243.44 L163.78,243.53 L164.07,243.61 L164.36,243.70 L164.65,243.78 L164.94,243.87 L165.24,243.95 L165.53,244.03 L165.82,244.11 L166.11,244.20 L166.41,244.28 L166.70,244.36 L166.99,244.44 L167.28,244.52 L167.58,244.60 L167.87,244.68 L168.16,244.75 L168.45,244.83 L168.75,244.91 L169.04,244.98 L169.33,245.06 L169.62,245.14 L169.92,245.21 L170.21,245.29 L170.50,245.36 L170.79,245.43 L171.09,245.51 L171.38,245.58 L171.67,245.65 L171.96,245.72 L172.26,245.80 L172.55,245.87 L172.84,245.94 L173.13,246.01 L173.42,246.08 L173.72,246.15 L174.01,246.22 L174.30,246.28 L174.59,246.35 L174.89,246.42 L175.18,246.49 L175.47,246.55 L175.76,246.62 L176.06,246.69 L176.35,246.75 L176.64,246.82 L176.93,246.88 L177.23,246.95 L177.52,247.01 L177.81,247.08 L178.10,247.14 L178.40,247.20 L178.69,247.27 L178.98,247.33 L179.27,247.39 L179.57,247.45 L179.86,247.51 L180.15,247.57 L180.44,247.64 L180.73,247.70 L181.03,247.76 L181.32,247.82 L181.61,247.88 L181.90,247.94 L182.20,247.99 L182.49,248.05 L182.78,248.11 L183.07,248.17 L183.37,248.23 L183.66,248.28 L183.95,248.34 L184.24,248.40 L184.54,248.46 L184.83,248.51 L185.12,248.57 L185.41,248.62 L185.71,248.68 L186.00,248.73 L186.29,248.79 L186.58,248.84 L186.88,248.90 L187.17,248.95 L187.46,249.01 L187.75,249.06 L188.05,249.11 L188.34,249.17 L188.63,249.22 L188.92,249.27 L189.21,249.33 L189.51,249.38 L189.80,249.43 L190.09,249.48 L190.38,249.53 L190.68,249.58 L190.97,249.64 L191.26,249.69 L191.55,249.74 L191.85,249.79 L192.14,249.84 L192.43,249.89 L192.72,249.94 L193.02,249.99 L193.31,250.04 L193.60,250.09 L193.89,250.13 L194.19,250.18 L194.48,250.23 L194.77,250.28 L195.06,250.33 L195.36,250.38 L195.65,250.42 L195.94,250.47 L196.23,250.52 L196.52,250.57 L196.82,250.61 L197.11,250.66 L197.40,250.71 L197.69,250.75 L197.99,250.80 L198.28,250.84 L198.57,250.89 L198.86,250.94 L199.16,250.98 L199.45,251.03 L199.74,251.07 L200.03,251.12 L200.33,251.16 L200.62,251.21 L200.91,251.25 L201.20,251.29 L201.50,251.34 L201.79,251.38 L202.08,251.43 L202.37,251.47 L202.67,251.51 L202.96,251.56 L203.25,251.60 L203.54,251.64 L203.84,251.69 L204.13,251.73 L204.42,251.77 L204.71,251.81 L205.00,251.86 L205.30,251.90 L205.59,251.94 L205.88,251.98 L206.17,252.02 L206.47,252.06 L206.76,252.11 L207.05,252.15 L207.34,252.19 L207.64,252.23 L207.93,252.27 L208.22,252.31 L208.51,252.35 L208.81,252.39 L209.10,252.43 L209.39,252.47 L209.68,252.51 L209.98,252.55 L210.27,252.59 L210.56,252.63 L210.85,252.67 L211.15,252.71 L211.44,252.75 L211.73,252.79 L212.02,252.83 L212.31,252.86 L212.61,252.90 L212.90,252.94 L213.19,252.98 L213.48,253.02 L213.78,253.06 L214.07,253.09 L214.36,253.13 L214.65,253.17 L214.95,253.21 L215.24,253.25 L215.53,253.28 L215.82,253.32 L216.12,253.36 L216.41,253.39 L216.70,253.43 L216.99,253.47 L217.29,253.51 L217.58,253.54 L217.87,253.58 L218.16,253.61 L218.46,253.65 L218.75,253.69 L219.04,253.72 L219.33,253.76 L219.63,253.80 L219.92,253.83 L220.21,253.87 L220.50,253.90 L220.79,253.94 L221.09,253.97 L221.38,254.01 L221.67,254.04 L221.96,254.08 L222.26,254.11 L222.55,254.15 L222.84,254.18 L223.13,254.22 L223.43,254.25 L223.72,254.29 L224.01,254.32 L224.30,254.36 L224.60,254.39 L224.89,254.43 L225.18,254.46 L225.47,254.49 L225.77,254.53 L226.06,254.56 L226.35,254.60 L226.64,254.63 L226.94,254.66 L227.23,254.70 L227.52,254.73 L227.81,254.76 L228.10,254.80 L228.40,254.83 L228.69,254.86 L228.98,254.90 L229.27,254.93 L229.57,254.96 L229.86,254.99 L230.15,255.03 L230.44,255.06 L230.74,255.09 L231.03,255.12 L231.32,255.16 L231.61,255.19 L231.91,255.22 L232.20,255.25 L232.49,255.29 L232.78,255.32 L233.08,255.35 L233.37,255.38 L233.66,255.41 L233.95,255.44 L234.25,255.48 L234.54,255.51 L234.83,255.54 L235.12,255.57 L235.42,255.60 L235.71,255.63 L236.00,255.66 L236.29,255.69 L236.58,255.73 L236.88,255.76 L237.17,255.79 L237.46,255.82 L237.75,255.85 L238.05,255.88 L238.34,255.91 L238.63,255.94 L238.92,255.97 L239.22,256.00 L239.51,256.03 L239.80,256.06 L240.09,256.09 L240.39,256.12 L240.68,256.15 L240.97,256.18 L241.26,256.21 L241.56,256.24 L241.85,256.27 L242.14,256.30 L242.43,256.33 L242.73,256.36 L243.02,256.39 L243.31,256.42 L243.60,256.45 L243.89,256.48 L244.19,256.51 L244.48,256.54 L244.77,256.57 L245.06,256.60 L245.36,256.62 L245.65,256.65 L245.94,256.68 L246.23,256.71 L246.53,256.74 L246.82,256.77 L247.11,256.80 L247.40,256.83 L247.70,256.85 L247.99,256.88 L248.28,256.91 L248.57,256.94 L248.87,256.97 L249.16,257.00 L249.45,257.02 L249.74,257.05 L250.04,257.08 L250.33,257.11 L250.62,257.14 L250.91,257.16 L251.21,257.19 L251.50,257.22 L251.79,257.25 L254.36,257.49 L256.92,257.73 L259.49,257.96 L262.06,258.19 L264.62,258.42 L267.19,258.64 L269.76,258.86 L272.32,259.07 L274.89,259.29 L277.46,259.50 L280.02,259.70 L282.59,259.91 L285.16,260.11 L287.72,260.31 L290.29,260.51 L292.86,260.70 L295.42,260.89 L297.99,261.08 L300.56,261.26 L303.12,261.45 L305.69,261.63 L308.26,261.81 L310.82,261.98 L313.39,262.16 L315.96,262.33 L318.52,262.50 L321.09,262.67 L323.66,262.83 L326.22,263.00 L328.79,263.16 L331.36,263.32 L333.92,263.48 L336.49,263.63 L339.06,263.78 L341.62,263.94 L344.19,264.09 L346.76,264.23 L349.32,264.38 L351.89,264.52 L354.46,264.67 L357.02,264.81 L359.59,264.94 L362.16,265.08 L364.72,265.22 L367.29,265.35 L369.86,265.48 L372.42,265.61 L374.99,265.74 L377.56,265.86 L380.12,265.99 L382.69,266.11 L385.26,266.23 L387.82,266.35 L390.39,266.47 L392.96,266.59 L395.52,266.70 L398.09,266.81 L400.66,266.92 L403.22,267.03 L405.79,267.14 L408.36,267.24 L410.92,267.35 L413.49,267.45 L416.06,267.55 L418.62,267.65 L421.19,267.75 L423.76,267.84 L426.32,267.94 L428.89,268.03 L431.46,268.12 L434.02,268.21 L436.59,268.30 L439.16,268.39 L441.72,268.47 L444.29,268.55 L446.86,268.63 L449.42,268.71 L451.99,268.79 L454.56,268.87 L457.12,268.94 L459.69,269.02 L462.26,269.09 L464.82,269.16 L467.39,269.23 L469.95,269.29 L472.52,269.36 L475.09,269.42 L477.65,269.49 L480.22,269.55 L482.79,269.61 L485.35,269.66 L487.92,269.72 L490.49,269.77 L493.05,269.83 L495.62,269.88 L498.19,269.93 L500.75,269.97 L503.32,270.02 L505.89,270.07" fill="none" stroke="#ff00ff" stroke-width="1" stroke-dasharray="1,1.14"/>
<path d="M78.41,17.50 L78.68,21.94 L78.98,26.52 L79.27,30.98 L79.56,35.33 L79.85,39.56 L80.15,43.68 L80.44,47.69 L80.73,51.60 L81.02,55.41 L81.32,59.12 L81.61,62.74 L81.90,66.27 L82.19,69.71 L82.49,73.07 L82.78,76.34 L83.07,79.54 L83.36,82.65 L83.66,85.70 L83.95,88.66 L84.24,91.56 L84.53,94.39 L84.83,97.15 L85.12,99.85 L85.41,102.48 L85.70,105.06 L85.99,107.57 L86.29,110.03 L86.58,112.43 L86.87,114.77 L87.16,117.07 L87.46,119.31 L87.75,121.50 L88.04,123.64 L88.33,125.74 L88.63,127.79 L88.92,129.80 L89.21,131.76 L89.50,133.68 L89.80,135.56 L90.09,137.40 L90.38,139.20 L90.67,140.96 L90.97,142.69 L91.26,144.38 L91.55,146.03 L91.84,147.65 L92.14,149.24 L92.43,150.79 L92.72,152.32 L93.01,153.81 L93.30,155.27 L93.60,156.71 L93.89,158.11 L94.18,159.49 L94.47,160.84 L94.77,162.16 L95.06,163.46 L95.35,164.73 L95.64,165.98 L95.94,167.21 L96.23,168.41 L96.52,169.58 L96.81,170.74 L97.11,171.88 L97.40,172.99 L97.69,174.08 L97.98,175.15 L98.28,176.21 L98.57,177.24 L98.86,178.25 L99.15,179.25 L99.45,180.23 L99.74,181.19 L100.03,182.13 L100.32,183.06 L100.62,183.97 L100.91,184.86 L101.20,185.74 L101.49,186.60 L101.78,187.45 L102.08,188.28 L102.37,189.10 L102.66,189.91 L102.95,190.70 L103.25,191.48 L103.54,192.24 L103.83,192.99 L104.12,193.73 L104.42,194.46 L104.71,195.18 L105.00,195.88 L105.29,196.57 L105.59,197.25 L105.88,197.92 L106.17,198.58 L106.46,199.23 L106.76,199.86 L107.05,200.49 L107.34,201.11 L107.63,201.72 L107.93,202.31 L108.22,202.90 L108.51,203.48 L108.80,204.05 L109.09,204.61 L109.39,205.17 L109.68,205.71 L109.97,206.25 L110.26,206.78 L110.56,207.30 L110.85,207.81 L111.14,208.31 L111.43,208.81 L111.73,209.30 L112.02,209.78 L112.31,210.26 L112.60,210.73 L112.90,211.19 L113.19,211.64 L113.48,212.09 L113.77,212.53 L114.07,212.97 L114.36,213.40 L114.65,213.82 L114.94,214.24 L115.24,214.65 L115.53,215.05 L115.82,215.45 L116.11,215.85 L116.41,216.24 L116.70,216.62 L116.99,217.00 L117.28,217.37 L117.57,217.74 L117.87,218.10 L118.16,218.46 L118.45,218.81 L118.74,219.16 L119.04,219.51 L119.33,219.85 L119.62,220.18 L119.91,220.51 L120.21,220.84 L120.50,221.16 L120.79,221.48 L121.08,221.79 L121.38,222.10 L121.67,222.41 L121.96,222.71 L122.25,223.01 L122.55,223.30 L122.84,223.59 L123.13,223.88 L123.42,224.16 L123.72,224.44 L124.01,224.72 L124.30,224.99 L124.59,225.26 L124.88,225.53 L125.18,225.79 L125.47,226.05 L125.76,226.31 L126.05,226.56 L126.35,226.81 L126.64,227.06 L126.93,227.30 L127.22,227.54 L127.52,227.78 L127.81,228.02 L128.10,228.25 L128.39,228.48 L128.69,228.71 L128.98,228.94 L129.27,229.16 L129.56,229.38 L129.86,229.60 L130.15,229.81 L130.44,230.03 L130.73,230.24 L131.03,230.44 L131.32,230.65 L131.61,230.85 L131.90,231.06 L132.20,231.25 L132.49,231.45 L132.78,231.65 L133.07,231.84 L133.36,232.03 L133.66,232.22 L133.95,232.40 L134.24,232.59 L134.53,232.77 L134.83,232.95 L135.12,233.13 L135.41,233.31 L135.70,233.48 L136.00,233.66 L136.29,233.83 L136.58,234.00 L136.87,234.17 L137.17,234.33 L137.46,234.50 L137.75,234.66 L138.04,234.82 L138.34,234.98 L138.63,235.14 L138.92,235.30 L139.21,235.45 L139.51,235.60 L139.80,235.76 L140.09,235.91 L140.38,236.05 L140.67,236.20 L140.97,236.35 L141.26,236.49 L141.55,236.64 L141.84,236.78 L142.14,236.92 L142.43,237.06 L142.72,237.20 L143.01,237.33 L143.31,237.47 L143.60,237.60 L143.89,237.74 L144.18,237.87 L144.48,238.00 L144.77,238.13 L145.06,238.25 L145.35,238.38 L145.65,238.51 L145.94,238.63 L146.23,238.76 L146.52,238.88 L146.82,239.00 L147.11,239.12 L147.40,239.24 L147.69,239.36 L147.99,239.47 L148.28,239.59 L148.57,239.71 L148.86,239.82 L149.15,239.93 L149.45,240.05 L149.74,240.16 L150.03,240.27 L150.32,240.38 L150.62,240.48 L150.91,240.59 L151.20,240.70 L151.49,240.81 L151.79,240.91 L152.08,241.01 L152.37,241.12 L152.66,241.22 L152.96,241.32 L153.25,241.42 L153.54,241.52 L153.83,241.62 L154.13,241.72 L154.42,241.82 L154.71,241.91 L155.00,242.01 L155.30,242.11 L155.59,242.20 L155.88,242.29 L156.17,242.39 L156.46,242.48 L156.76,242.57 L157.05,242.66 L157.34,242.75 L157.63,242.84 L157.93,242.93 L158.22,243.02 L158.51,243.11 L158.80,243.19 L159.10,243.28 L159.39,243.37 L159.68,243.45 L159.97,243.54 L160.27,243.62 L160.56,243.70 L160.85,243.79 L161.14,243.87 L161.44,243.95 L161.73,244.03 L162.02,244.11 L162.31,244.19 L162.61,244.27 L162.90,244.35 L163.19,244.43 L163.48,244.50 L163.78,244.58 L164.07,244.66 L164.36,244.73 L164.65,244.81 L164.94,244.88 L165.24,244.96 L165.53,245.03 L165.82,245.11 L166.11,245.18 L166.41,245.25 L166.70,245.32 L166.99,245.40 L167.28,245.47 L167.58,245.54 L167.87,245.61 L168.16,245.68 L168.45,245.75 L168.75,245.82 L169.04,245.88 L169.33,245.95 L169.62,246.02 L169.92,246.09 L170.21,246.15 L170.50,246.22 L170.79,246.29 L171.09,246.35 L171.38,246.42 L171.67,246.48 L171.96,246.55 L172.26,246.61 L172.55,246.67 L172.84,246.74 L173.13,246.80 L173.42,246.86 L173.72,246.92 L174.01,246.99 L174.30,247.05 L174.59,247.11 L174.89,247.17 L175.18,247.23 L175.47,247.29 L175.76,247.35 L176.06,247.41 L176.35,247.47 L176.64,247.52 L176.93,247.58 L177.23,247.64 L177.52,247.70 L177.81,247.76 L178.10,247.81 L178.40,247.87 L178.69,247.93 L178.98,247.98 L179.27,248.04 L179.57,248.09 L179.86,248.15 L180.15,248.20 L180.44,248.26 L180.73,248.31 L181.03,248.37 L181.32,248.42 L181.61,248.47 L181.90,248.53 L182.20,248.58 L182.49,248.63 L182.78,248.68 L183.07,248.74 L183.37,248.79 L183.66,248.84 L183.95,248.89 L184.24,248.94 L184.54,248.99 L184.83,249.04 L185.12,249.09 L185.41,249.14 L185.71,249.19 L186.00,249.24 L186.29,249.29 L186.58,249.34 L186.88,249.39 L187.17,249.44 L187.46,249.49 L187.75,249.53 L188.05,249.58 L188.34,249.63 L188.63,249.68 L188.92,249.72 L189.21,249.77 L189.51,249.82 L189.80,249.87 L190.09,249.91 L190.38,249.96 L190.68,250.00 L190.97,250.05 L191.26,250.09 L191.55,250.14 L191.85,250.19 L192.14,250.23 L192.43,250.28 L192.72,250.32 L193.02,250.36 L193.31,250.41 L193.60,250.45 L193.89,250.50 L194.19,250.54 L194.48,250.58 L194.77,250.63 L195.06,250.67 L195.36,250.71 L195.65,250.75 L195.94,250.80 L196.23,250.84 L196.52,250.88 L196.82,250.92 L197.11,250.96 L197.40,251.01 L197.69,251.05 L197.99,251.09 L198.28,251.13 L198.57,251.17 L198.86,251.21 L199.16,251.25 L199.45,251.29 L199.74,251.33 L200.03,251.37 L200.33,251.41 L200.62,251.45 L200.91,251.49 L201.20,251.53 L201.50,251.57 L201.79,251.61 L202.08,251.65 L202.37,251.69 L202.67,251.73 L202.96,251.77 L203.25,251.80 L203.54,251.84 L203.84,251.88 L204.13,251.92 L204.42,251.96 L204.71,251.99 L205.00,252.03 L205.30,252.07 L205.59,252.11 L205.88,252.14 L206.17,252.18 L206.47,252.22 L206.76,252.25 L207.05,252.29 L207.34,252.33 L207.64,252.36 L207.93,252.40 L208.22,252.44 L208.51,252.47 L208.81,252.51 L209.10,252.54 L209.39,252.58 L209.68,252.62 L209.98,252.65 L210.27,252.69 L210.56,252.72 L210.85,252.76 L211.15,252.79 L211.44,252.83 L211.73,252.86 L212.02,252.89 L212.31,252.93 L212.61,252.96 L212.90,253.00 L213.19,253.03 L213.48,253.07 L213.78,253.10 L214.07,253.13 L214.36,253.17 L214.65,253.20 L214.95,253.23 L215.24,253.27 L215.53,253.30 L215.82,253.33 L216.12,253.37 L216.41,253.40 L216.70,253.43 L216.99,253.47 L217.29,253.50 L217.58,253.53 L217.87,253.56 L218.16,253.60 L218.46,253.63 L218.75,253.66 L219.04,253.69 L219.33,253.72 L219.63,253.76 L219.92,253.79 L220.21,253.82 L220.50,253.85 L220.79,253.88 L221.09,253.91 L221.38,253.94 L221.67,253.98 L221.96,254.01 L222.26,254.04 L222.55,254.07 L222.84,254.10 L223.13,254.13 L223.43,254.16 L223.72,254.19 L224.01,254.22 L224.30,254.25 L224.60,254.28 L224.89,254.31 L225.18,254.34 L225.47,254.37 L225.77,254.40 L226.06,254.43 L226.35,254.46 L226.64,254.49 L226.94,254.52 L227.23,254.55 L227.52,254.58 L227.81,254.61 L228.10,254.64 L228.40,254.67 L228.69,254.70 L228.98,254.73 L229.27,254.76 L229.57,254.79 L229.86,254.81 L230.15,254.84 L230.44,254.87 L230.74,254.90 L231.03,254.93 L231.32,254.96 L231.61,254.99 L231.91,255.01 L232.20,255.04 L232.49,255.07 L232.78,255.10 L233.08,255.13 L233.37,255.16 L233.66,255.18 L233.95,255.21 L234.25,255.24 L234.54,255.27 L234.83,255.29 L235.12,255.32 L235.42,255.35 L235.71,255.38 L236.00,255.40 L236.29,255.43 L236.58,255.46 L236.88,255.49 L237.17,255.51 L237.46,255.54 L237.75,255.57 L238.05,255.59 L238.34,255.62 L238.63,255.65 L238.92,255.67 L239.22,255.70 L239.51,255.73 L239.80,255.75 L240.09,255.78 L240.39,255.81 L240.68,255.83 L240.97,255.86 L241.26,255.89 L241.56,255.91 L241.85,255.94 L242.14,255.96 L242.43,255.99 L242.73,256.02 L243.02,256.04 L243.31,256.07 L243.60,256.09 L243.89,256.12 L244.19,256.14 L244.48,256.17 L244.77,256.20 L245.06,256.22 L245.36,256.25 L245.65,256.27 L245.94,256.30 L246.23,256.32 L246.53,256.35 L246.82,256.37 L247.11,256.40 L247.40,256.42 L247.70,256.45 L247.99,256.47 L248.28,256.50 L248.57,256.52 L248.87,256.55 L249.16,256.57 L249.45,256.60 L249.74,256.62 L250.04,256.65 L250.33,256.67 L250.62,256.69 L250.91,256.72 L251.21,256.74 L251.50,256.77 L251.79,256.79 L254.36,257.00 L256.92,257.21 L259.49,257.41 L262.06,257.61 L264.62,257.81 L267.19,258.00 L269.76,258.20 L272.32,258.38 L274.89,258.57 L277.46,258.75 L280.02,258.93 L282.59,259.11 L285.16,259.28 L287.72,259.45 L290.29,259.62 L292.86,259.79 L295.42,259.96 L297.99,260.12 L300.56,260.28 L303.12,260.44 L305.69,260.60 L308.26,260.75 L310.82,260.90 L313.39,261.05 L315.96,261.20 L318.52,261.35 L321.09,261.50 L323.66,261.64 L326.22,261.78 L328.79,261.92 L331.36,262.06 L333.92,262.20 L336.49,262.33 L339.06,262.47 L341.62,262.60 L344.19,262.73 L346.76,262.86 L349.32,262.99 L351.89,263.11 L354.46,263.24 L357.02,263.36 L359.59,263.48 L362.16,263.60 L364.72,263.72 L367.29,263.84 L369.86,263.95 L372.42,264.07 L374.99,264.18 L377.56,264.29 L380.12,264.40 L382.69,264.51 L385.26,264.62 L387.82,264.72 L390.39,264.83 L392.96,264.93 L395.52,265.03 L398.09,265.13 L400.66,265.23 L403.22,265.33 L405.79,265.43 L408.36,265.52 L410.92,265.62 L413.49,265.71 L416.06,265.80 L418.62,265.89 L421.19,265.98 L423.76,266.07 L426.32,266.15 L428.89,266.24 L431.46,266.32 L434.02,266.41 L436.59,266.49 L439.16,266.57 L441.72,266.65 L444.29,266.73 L446.86,266.80 L449.42,266.88 L451.99,266.95 L454.56,267.02 L457.12,267.10 L459.69,267.17 L462.26,267.24 L464.82,267.30 L467.39,267.37 L469.95,267.44 L472.52,267.50 L475.09,267.56 L477.65,267.63 L480.22,267.69 L482.79,267.75 L485.35,267.81 L487.92,267.86 L490.49,267.92 L493.05,267.98 L495.62,268.03 L498.19,268.08 L500.75,268.13 L503.32,268.18 L505.89,268.23" fill="none" stroke="#00ffff" stroke-width="1" stroke-dasharray="4.7,1.2,1,1.3"/>
<rect x="76.55" y="17.5" width="438.10" height="300.35" fill="none" stroke="#000" stroke-width="1"/>
<text x="76.25" y="337.9" text-anchor="middle">-0.5</text>
<text x="163.87" y="337.9" text-anchor="middle">-0.4</text>
<text x="251.49" y="337.9" text-anchor="middle">-0.3</text>
<text x="339.11" y="337.9" text-anchor="middle">-0.2</text>
<text x="426.73" y="337.9" text-anchor="middle">-0.1</text>
<text x="516.50" y="337.9" text-anchor="middle">0</text>
<text x="67" y="22.40" text-anchor="end">0.5</text>
<text x="67" y="65.31" text-anchor="end">0.4</text>
<text x="67" y="108.21" text-anchor="end">0.3</text>
<text x="67" y="151.12" text-anchor="end">0.2</text>
<text x="67" y="194.03" text-anchor="end">0.1</text>
<text x="67" y="236.94" text-anchor="end">0</text>
<text x="67" y="279.84" text-anchor="end">-0.1</text>
<text x="67" y="322.75" text-anchor="end">-0.2</text>
<text transform="translate(19.6,167.5) rotate(-90)" text-anchor="middle">T</text>
<text x="289.1" y="360.7">c</text><text class="s" x="295.5" y="352.7">t</text><text class="s" x="295.5" y="365">0</text>
<line x1="455.8" y1="33.5" x2="496.9" y2="33.5" stroke="#ff0000" stroke-width="1"/>
<text x="446.70" y="38.70" text-anchor="end">=-0.10</text>
<text class="s" x="400.82" y="31.50">q</text><text class="s" x="400.82" y="43.30">0</text>
<text x="400.82" y="38.70" text-anchor="end">c</text>
<line x1="455.8" y1="56.2" x2="496.9" y2="56.2" stroke="#00ff00" stroke-width="1" stroke-dasharray="3.3,1.2"/>
<text x="446.70" y="61.40" text-anchor="end">=0.10</text>
<text class="s" x="405.75" y="54.20">q</text><text class="s" x="405.75" y="66.00">0</text>
<text x="405.75" y="61.40" text-anchor="end">c</text>
<line x1="455.8" y1="78.6" x2="496.9" y2="78.6" stroke="#0000ff" stroke-width="1" stroke-dasharray="1.7,2.05"/>
<text x="446.70" y="83.80" text-anchor="end">=0.30</text>
<text class="s" x="405.75" y="76.60">q</text><text class="s" x="405.75" y="88.40">0</text>
<text x="405.75" y="83.80" text-anchor="end">c</text>
<line x1="455.8" y1="101.3" x2="496.9" y2="101.3" stroke="#ff00ff" stroke-width="1" stroke-dasharray="1,1.14"/>
<text x="446.70" y="106.50" text-anchor="end">=0.40</text>
<text class="s" x="405.75" y="99.30">q</text><text class="s" x="405.75" y="111.10">0</text>
<text x="405.75" y="106.50" text-anchor="end">c</text>
<line x1="455.8" y1="123.8" x2="496.9" y2="123.8" stroke="#00ffff" stroke-width="1" stroke-dasharray="4.7,1.2,1,1.3"/>
<text x="446.70" y="129.00" text-anchor="end">=0.45</text>
<text class="s" x="405.75" y="121.80">q</text><text class="s" x="405.75" y="133.60">0</text>
<text x="405.75" y="129.00" text-anchor="end">c</text>
</svg>
</body></html>
